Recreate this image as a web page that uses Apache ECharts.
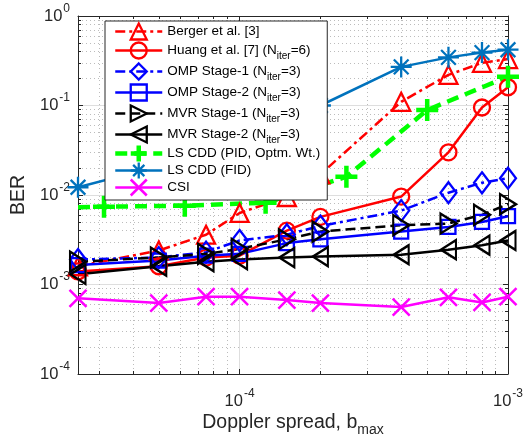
<!DOCTYPE html>
<html>
<head>
<meta charset="utf-8">
<script src="https://cdn.jsdelivr.net/npm/echarts@6/dist/echarts.min.js"></script>
<style>
  html, body { margin: 0; padding: 0; background: #ffffff; }
  #chart { width: 529px; height: 438px; }
</style>
</head>
<body>
<div id="chart"></div>
<script>
// Doppler spread values (b_max) at which the BER was evaluated
const dopplerSpread = [2.5e-5, 5e-5, 7.5e-5, 1e-4, 1.5e-4, 2e-4, 4e-4, 6e-4, 8e-4, 1e-3];
// The PID curve was evaluated on its own grid
const pidSpread = [2.5e-5, 3.125e-5, 6.25e-5, 1.25e-4, 2.5e-4, 5e-4, 1e-3];

// BER per method
const berBerger  = [1.6e-3, 2.4e-3, 3.6e-3, 6.3e-3, 9.5e-3, 1.7e-2, 0.11, 0.22, 0.30, 0.33];
const berHuang   = [1.4e-3, 1.6e-3, 2.0e-3, 2.1e-3, 4.0e-3, 5.7e-3, 9.6e-3, 3.0e-2, 9.5e-2, 0.16];
const berOmp1    = [1.9e-3, 2.0e-3, 2.3e-3, 3.1e-3, 3.6e-3, 4.5e-3, 6.7e-3, 1.06e-2, 1.37e-2, 1.54e-2];
const berOmp2    = [1.65e-3, 1.85e-3, 2.1e-3, 2.2e-3, 2.9e-3, 3.2e-3, 3.9e-3, 4.4e-3, 5.0e-3, 5.8e-3];
const berMvr1    = [1.8e-3, 2.0e-3, 2.2e-3, 2.5e-3, 3.2e-3, 3.9e-3, 4.6e-3, 4.8e-3, 6.0e-3, 7.9e-3];
const berMvr2    = [1.3e-3, 1.6e-3, 1.8e-3, 1.9e-3, 2.0e-3, 2.05e-3, 2.15e-3, 2.45e-3, 2.75e-3, 3.1e-3];
const berLsPid   = [7.3e-3, 7.4e-3, 7.6e-3, 8.2e-3, 1.6e-2, 8.9e-2, 0.21];
const berLsFid   = [1.22e-2, 2.1e-2, 3.2e-2, 4.5e-2, 7.0e-2, 0.10, 0.27, 0.345, 0.39, 0.42];
const berCsi     = [7.0e-4, 6.2e-4, 7.3e-4, 7.3e-4, 6.7e-4, 6.2e-4, 5.6e-4, 7.2e-4, 6.3e-4, 7.3e-4];

// Decade exponents that carry a tick label
const xTickExponents = [-4, -3];
const yTickExponents = [-4, -3, -2, -1, 0];

// Legend entries (rich text for the N_iter subscript)
const legendText = {
  'Berger et al. [3]': 'Berger et al. [3]',
  'Huang et al. [7] (Niter=6)': 'Huang et al. [7] (N{sub|iter}=6)',
  'OMP Stage-1 (Niter=3)': 'OMP Stage-1 (N{sub|iter}=3)',
  'OMP Stage-2 (Niter=3)': 'OMP Stage-2 (N{sub|iter}=3)',
  'MVR Stage-1 (Niter=3)': 'MVR Stage-1 (N{sub|iter}=3)',
  'MVR Stage-2 (Niter=3)': 'MVR Stage-2 (N{sub|iter}=3)',
  'LS CDD (PID, Optm. Wt.)': 'LS CDD (PID, Optm. Wt.)',
  'LS CDD (FID)': 'LS CDD (FID)',
  'CSI': 'CSI'
};

const FONT = 'Liberation Sans, Arial, Helvetica, sans-serif';
const AXIS_COLOR = '#262626';

// Marker outlines (stroke-only paths for the open markers)
const SYM_RIGHT = 'path://M0,0L10,6L0,12Z';
const SYM_LEFT = 'path://M10,0L0,6L10,12Z';
const SYM_PLUS = 'path://M5,0L5,10M0,5L10,5';
const SYM_STAR = 'path://M5,0L5,10M0,5L10,5M1.5,1.5L8.5,8.5M1.5,8.5L8.5,1.5';
const SYM_CROSS = 'path://M0,0L10,10M0,10L10,0';

const DASH_DOT = [10, 4, 3, 4];
const DASHED = [10, 5];

const curves = [
  { name: 'Berger et al. [3]', x: dopplerSpread, y: berBerger, color: '#ff0000', dash: DASH_DOT, width: 2.5, symbol: 'triangle', size: 18, bw: 2.3 },
  { name: 'Huang et al. [7] (Niter=6)', x: dopplerSpread, y: berHuang, color: '#ff0000', dash: 'solid', width: 2.5, symbol: 'circle', size: 16, bw: 2.3 },
  { name: 'OMP Stage-1 (Niter=3)', x: dopplerSpread, y: berOmp1, color: '#0000ff', dash: DASH_DOT, width: 2.5, symbol: 'diamond', size: [16, 21], bw: 2.3 },
  { name: 'OMP Stage-2 (Niter=3)', x: dopplerSpread, y: berOmp2, color: '#0000ff', dash: 'solid', width: 2.5, symbol: 'rect', size: 14, bw: 2.3 },
  { name: 'MVR Stage-1 (Niter=3)', x: dopplerSpread, y: berMvr1, color: '#000000', dash: DASHED, width: 2.5, symbol: SYM_RIGHT, size: [16, 20], bw: 2.3 },
  { name: 'MVR Stage-2 (Niter=3)', x: dopplerSpread, y: berMvr2, color: '#000000', dash: 'solid', width: 2.5, symbol: SYM_LEFT, size: [15, 19], bw: 2.3 },
  { name: 'LS CDD (PID, Optm. Wt.)', x: pidSpread, y: berLsPid, color: '#00ff00', dash: [12, 7], width: 4.5, symbol: SYM_PLUS, size: 22, bw: 4.5, skipFirstMarker: true },
  { name: 'LS CDD (FID)', x: dopplerSpread, y: berLsFid, color: '#0072bd', dash: 'solid', width: 2.5, symbol: SYM_STAR, size: 21, bw: 2.3 },
  { name: 'CSI', x: dopplerSpread, y: berCsi, color: '#ff00ff', dash: 'solid', width: 2.5, symbol: SYM_CROSS, size: 17, bw: 2.5 }
];

function decadeLabel(value, allowed) {
  const lg = Math.log10(value);
  const e = Math.round(lg);
  if (Math.abs(lg - e) > 1e-6 || allowed.indexOf(e) < 0) return '';
  return '10{sup|' + e + '}';
}

const supRich = { sup: { fontFamily: FONT, fontSize: 12, lineHeight: 9, padding: [0, 0, 15, 1], color: AXIS_COLOR } };

function logAxis(min, max, extra) {
  return Object.assign({
    type: 'log',
    logBase: 10,
    min: min,
    max: max,
    axisLine: { show: true, onZero: false, lineStyle: { color: AXIS_COLOR, width: 1 } },
    axisTick: { show: true, inside: true, length: 5, lineStyle: { color: AXIS_COLOR, width: 1 } },
    minorTick: { show: true, splitNumber: 9, length: 3, lineStyle: { color: AXIS_COLOR, width: 1 } },
    splitLine: { show: false },
    minorSplitLine: { show: false },
    axisLabel: { show: false }
  }, extra);
}

const series = curves.map(function (c) {
  return {
    type: 'line',
    name: c.name,
    xAxisIndex: 0,
    yAxisIndex: 0,
    data: c.x.map(function (xv, k) {
      const item = { value: [xv, c.y[k]] };
      if (c.skipFirstMarker && k === 0) item.symbol = 'none';
      return item;
    }),
    symbol: c.symbol,
    symbolSize: c.size,
    showSymbol: true,
    showAllSymbol: true,
    clip: false,
    z: 2,
    lineStyle: { color: c.color, width: c.width, type: c.dash },
    itemStyle: { color: 'none', borderColor: c.color, borderWidth: c.bw },
    emphasis: { disabled: true }
  };
});

const legendData = curves.map(function (c) {
  return {
    name: c.name,
    itemStyle: { color: 'none', borderColor: c.color, borderWidth: c.bw },
    lineStyle: { color: c.color, width: c.width, type: c.dash }
  };
});

const chart = echarts.init(document.getElementById('chart'), null, { renderer: 'canvas' });
chart.setOption({
  animation: false,
  backgroundColor: '#ffffff',
  grid: { left: 78, top: 16, width: 430, height: 358, containLabel: false, outerBoundsMode: 'none' },
  xAxis: [
    logAxis(2.5e-5, 1e-3, {
      position: 'bottom',
      splitLine: { show: true, lineStyle: { color: '#dedede', width: 1 } },
      minorSplitLine: { show: true, lineStyle: { color: '#bcbcbc', width: 1, type: [1, 3] } },
      axisLabel: {
        show: true, margin: 19, color: AXIS_COLOR, fontFamily: FONT, fontSize: 16.5, lineHeight: 16,
        formatter: function (v) { return decadeLabel(v, xTickExponents); },
        rich: supRich
      },
      name: 'Doppler spread, b{sub|max}',
      nameLocation: 'middle',
      nameGap: 37.5,
      nameMoveOverlap: false,
      nameTextStyle: {
        color: AXIS_COLOR, fontFamily: FONT, fontSize: 19.5, lineHeight: 22,
        rich: { sub: { fontFamily: FONT, fontSize: 14, lineHeight: 11, padding: [15, 0, 0, 0], color: AXIS_COLOR } }
      }
    }),
    logAxis(2.5e-5, 1e-3, { position: 'top' })
  ],
  yAxis: [
    logAxis(1e-4, 1, {
      position: 'left',
      splitLine: { show: true, lineStyle: { color: '#dedede', width: 1 } },
      minorSplitLine: { show: true, lineStyle: { color: '#bcbcbc', width: 1, type: [1, 3] } },
      axisLabel: {
        show: true, margin: 8, color: AXIS_COLOR, fontFamily: FONT, fontSize: 16.5, lineHeight: 16,
        formatter: function (v) { return decadeLabel(v, yTickExponents); },
        rich: supRich
      },
      name: 'BER',
      nameLocation: 'middle',
      nameGap: 49,
      nameRotate: 90,
      nameMoveOverlap: false,
      nameTextStyle: { color: AXIS_COLOR, fontFamily: FONT, fontSize: 19.5 }
    }),
    logAxis(1e-4, 1, { position: 'right' })
  ],
  legend: {
    orient: 'vertical',
    left: 105,
    top: 21,
    z: 20,
    padding: [0, 7, 2, 8],
    itemWidth: 47,
    itemHeight: 20,
    itemGap: -4,
    backgroundColor: '#ffffff',
    borderColor: AXIS_COLOR,
    borderWidth: 1,
    selectedMode: false,
    data: legendData,
    formatter: function (name) { return legendText[name]; },
    textStyle: {
      color: '#000000', fontFamily: FONT, fontSize: 13.5, lineHeight: 14,
      rich: { sub: { color: '#000000', fontFamily: FONT, fontSize: 10, lineHeight: 8, padding: [13, 0, 2, 0] } }
    }
  },
  series: series
});
</script>
</body>
</html>
